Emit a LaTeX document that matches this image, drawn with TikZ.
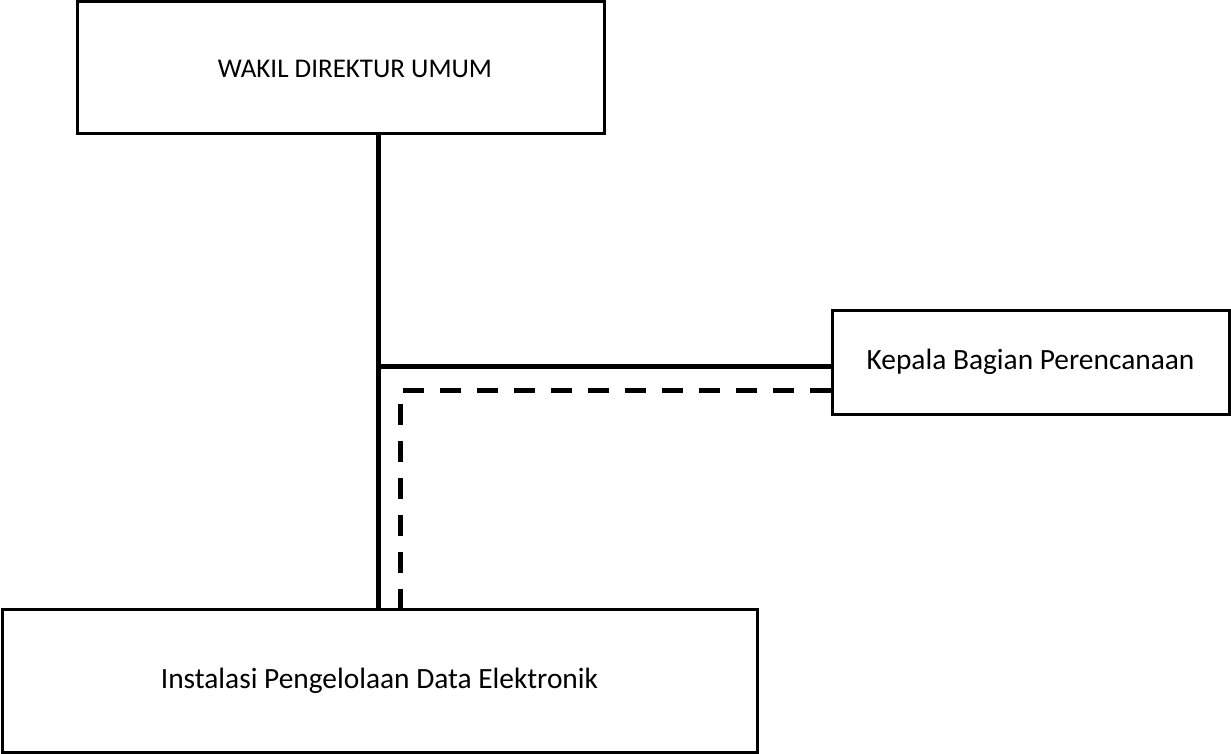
\documentclass[tikz,border=0pt]{standalone}
\usepackage{fontspec}
\setmainfont{Carlito}
\tikzset{
  box/.style={draw, line width=1.5pt, inner sep=0pt, font=\fontsize{14.7}{17}\selectfont},
  link/.style={line width=2.5pt},
  dashlink/.style={line width=2.5pt, dash pattern=on 10.5pt off 8pt}
}
\begin{document}
\begin{tikzpicture}[x=0.5pt,y=-0.5pt]
   \useasboundingbox (0,0) rectangle (1231,754);

   \node[box, minimum width=263.5pt, minimum height=66pt] (wadir) at (340.5,68) {};
   \node[font=\fontsize{13.5}{16}\selectfont] (wadirtext) at (355,69) {WAKIL DIREKTUR UMUM};

   \node[box, minimum width=198.5pt, minimum height=52pt] (kabag) at (1030.5,362) {Kepala Bagian Perencanaan};

   \node[box, minimum width=377.5pt, minimum height=71.5pt] (ipde) at (379.5,680.5) {Instalasi Pengelolaan Data Elektronik};

   \coordinate (j) at (378,366);
   \coordinate (d) at (400,390.5);

   % garis komando
   \draw[link] (wadir.south -| j) -- (j |- ipde.north);
   \draw[link] (j) -- (j -| kabag.west);

   % garis koordinasi
   \draw[dashlink] (kabag.west |- d) -- (d) -- (d |- ipde.north);
\end{tikzpicture}
\end{document}
